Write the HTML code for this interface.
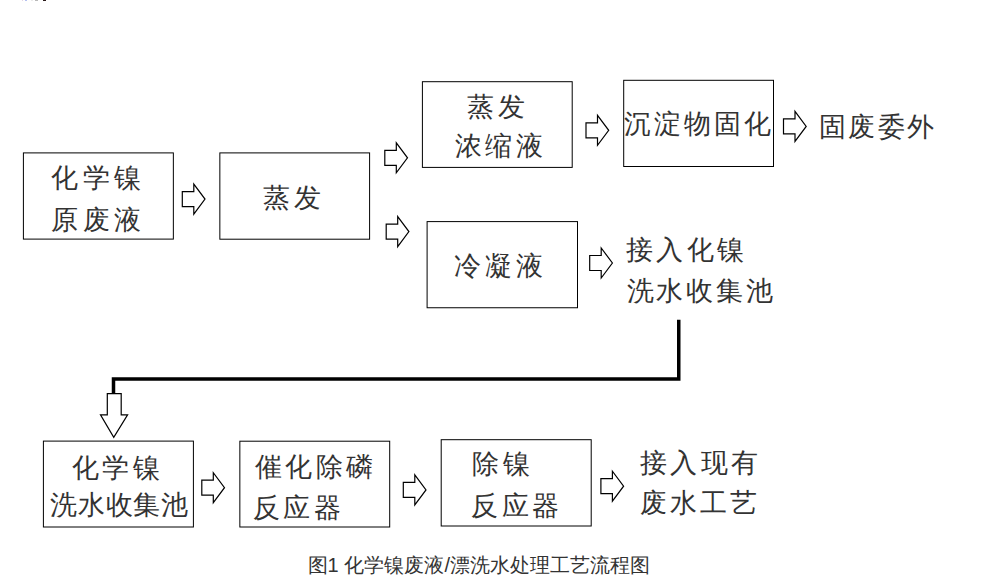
<!DOCTYPE html>
<html><head><meta charset="utf-8"><title>流程图</title>
<style>
html,body{margin:0;padding:0;background:#fff;}
body{width:985px;height:587px;position:relative;overflow:hidden;}
.t{position:absolute;font-family:"Liberation Serif",serif;font-size:27px;line-height:27px;color:#333;white-space:nowrap;}
.cap{position:absolute;font-family:"Liberation Sans",sans-serif;font-size:20px;line-height:20px;color:#333;white-space:nowrap;}
svg{position:absolute;left:0;top:0;}
</style></head><body>

<svg width="985" height="587" viewBox="0 0 985 587">
<rect x="23.4" y="152.9" width="149.95" height="86.2" fill="none" stroke="#000" stroke-width="1"/>
<rect x="219.85" y="152.9" width="149.75" height="86.3" fill="none" stroke="#000" stroke-width="1"/>
<rect x="422.4" y="81.7" width="149.8" height="85.7" fill="none" stroke="#000" stroke-width="1"/>
<rect x="623.7" y="80.3" width="149.8" height="86.2" fill="none" stroke="#000" stroke-width="1"/>
<rect x="427.1" y="221.6" width="150.4" height="86.15" fill="none" stroke="#000" stroke-width="1"/>
<rect x="43.4" y="441.1" width="150" height="85.9" fill="none" stroke="#000" stroke-width="1"/>
<rect x="239.85" y="441.2" width="149.85" height="85.8" fill="none" stroke="#000" stroke-width="1"/>
<rect x="441.2" y="439.7" width="150" height="86.3" fill="none" stroke="#000" stroke-width="1"/>
<polygon points="182.3,191.6 193.8,191.6 193.8,184.1 205,199.1 193.8,214.1 193.8,206.6 182.3,206.6" fill="none" stroke="#000" stroke-width="1.2" stroke-linejoin="miter"/>
<polygon points="384.8,150.3 396.3,150.3 396.3,142.8 407.5,157.8 396.3,172.8 396.3,165.3 384.8,165.3" fill="none" stroke="#000" stroke-width="1.2" stroke-linejoin="miter"/>
<polygon points="386.2,224.1 397.7,224.1 397.7,216.6 408.9,231.6 397.7,246.6 397.7,239.1 386.2,239.1" fill="none" stroke="#000" stroke-width="1.2" stroke-linejoin="miter"/>
<polygon points="586,122.8 597.5,122.8 597.5,115.3 608.7,130.3 597.5,145.3 597.5,137.8 586,137.8" fill="none" stroke="#000" stroke-width="1.2" stroke-linejoin="miter"/>
<polygon points="783.5,118.9 795,118.9 795,111.4 806.2,126.4 795,141.4 795,133.9 783.5,133.9" fill="none" stroke="#000" stroke-width="1.2" stroke-linejoin="miter"/>
<polygon points="589.7,255.5 601.2,255.5 601.2,248 612.4,263 601.2,278 601.2,270.5 589.7,270.5" fill="none" stroke="#000" stroke-width="1.2" stroke-linejoin="miter"/>
<polygon points="201.8,480.2 213.3,480.2 213.3,472.7 224.5,487.7 213.3,502.7 213.3,495.2 201.8,495.2" fill="none" stroke="#000" stroke-width="1.2" stroke-linejoin="miter"/>
<polygon points="403.3,482.4 414.8,482.4 414.8,474.9 426,489.9 414.8,504.9 414.8,497.4 403.3,497.4" fill="none" stroke="#000" stroke-width="1.2" stroke-linejoin="miter"/>
<polygon points="600.9,478.7 612.4,478.7 612.4,471.2 623.6,486.2 612.4,501.2 612.4,493.7 600.9,493.7" fill="none" stroke="#000" stroke-width="1.2" stroke-linejoin="miter"/>
<polyline points="678.75,319.8 678.75,379 113.5,379 113.5,393.4" fill="none" stroke="#000" stroke-width="3.5" stroke-linejoin="miter"/>
<polygon points="107.3,393.7 121.2,393.7 121.2,414.8 127.6,414.8 113.75,437.3 100.5,414.8 107.3,414.8" fill="none" stroke="#000" stroke-width="1.2"/>
</svg>
<div class="t" style="left:51.0px;top:165.0px;letter-spacing:4.50px">化学镍</div>
<div class="t" style="left:51.0px;top:206.5px;letter-spacing:4.50px">原废液</div>
<div class="t" style="left:263.0px;top:184.5px;letter-spacing:3.80px">蒸发</div>
<div class="t" style="left:466.5px;top:93.5px;letter-spacing:4.00px">蒸发</div>
<div class="t" style="left:454.5px;top:133.0px;letter-spacing:3.70px">浓缩液</div>
<div class="t" style="left:623.5px;top:111.0px;letter-spacing:3.10px">沉淀物固化</div>
<div class="t" style="left:818.5px;top:113.5px;letter-spacing:2.60px">固废委外</div>
<div class="t" style="left:453.5px;top:252.5px;letter-spacing:4.20px">冷凝液</div>
<div class="t" style="left:625.5px;top:237.0px;letter-spacing:3.53px">接入化镍</div>
<div class="t" style="left:626.5px;top:278.0px;letter-spacing:2.80px">洗水收集池</div>
<div class="t" style="left:71.5px;top:454.5px;letter-spacing:3.70px">化学镍</div>
<div class="t" style="left:50.0px;top:492.0px;letter-spacing:0.80px">洗水收集池</div>
<div class="t" style="left:254.5px;top:454.0px;letter-spacing:3.60px">催化除磷</div>
<div class="t" style="left:253.0px;top:494.5px;letter-spacing:3.40px">反应器</div>
<div class="t" style="left:471.5px;top:450.5px;letter-spacing:4.80px">除镍</div>
<div class="t" style="left:471.0px;top:493.0px;letter-spacing:3.60px">反应器</div>
<div class="t" style="left:640.0px;top:450.0px;letter-spacing:3.27px">接入现有</div>
<div class="t" style="left:639.5px;top:490.0px;letter-spacing:3.13px">废水工艺</div>
<div class="cap" style="left:307.5px;top:555.4px;letter-spacing:0.04px">图1 化学镍废液/漂洗水处理工艺流程图</div>
<div style="position:absolute;left:22px;top:0;width:1px;height:1px;background:#e6d6e6"></div><div style="position:absolute;left:25px;top:0;width:2px;height:1px;background:#b4c0f0"></div><div style="position:absolute;left:31px;top:0;width:2px;height:1px;background:#ececec"></div><div style="position:absolute;left:35px;top:0;width:3px;height:1px;background:#b8b8b8"></div><div style="position:absolute;left:43px;top:0;width:3px;height:1px;background:#2a1a1a"></div>
</body></html>
